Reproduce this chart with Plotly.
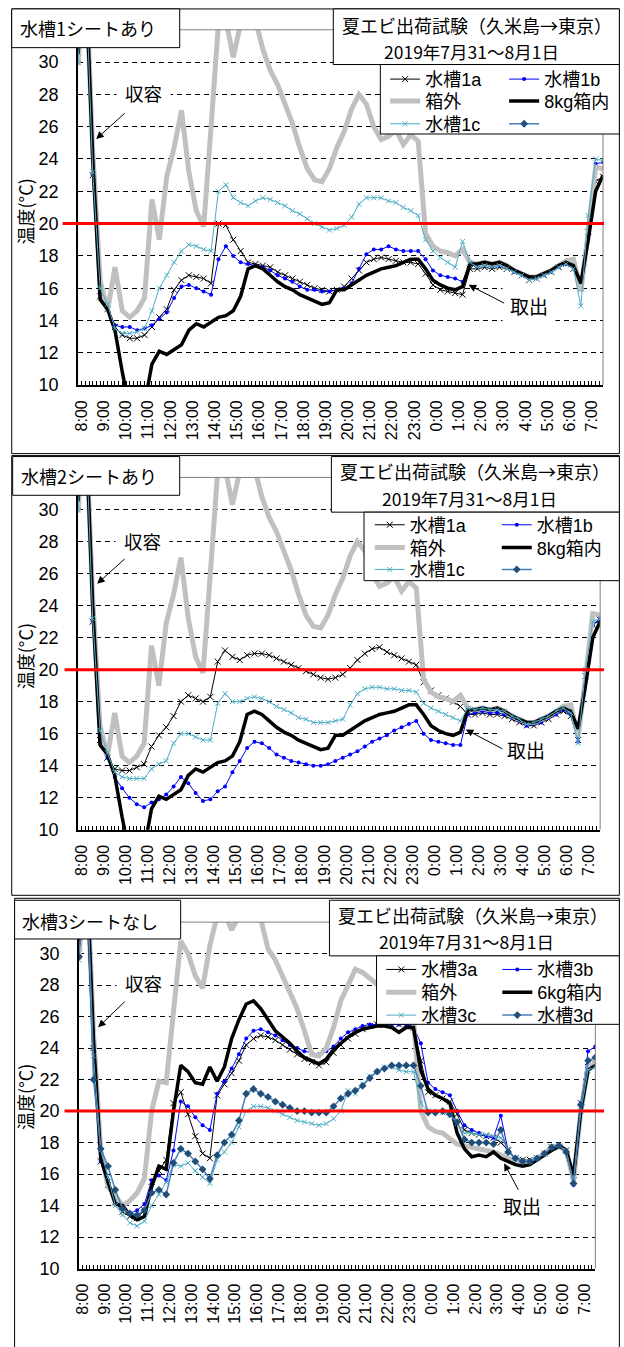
import pandas as pd
import plotly.graph_objects as go

W, H = 624, 1347

# readings every 20 minutes, 2019-07-31 07:50 -> 2019-08-01 07:30
TIMES = pd.date_range("2019-07-31 07:50", periods=72, freq="20min")

# outside-box air temperature and 8 kg box interior (tanks 1 and 2 runs)
OUTSIDE_12 = [
    29.8, 36.0, 24.5, 16.5, 14.6, 17.3, 14.6, 14.2, 14.6, 15.4,
    21.5, 19.0, 22.9, 24.7, 27.0, 23.2, 20.8, 19.8, 26.0, 32.4,
    32.6, 30.3, 32.4, 33.0, 32.6, 30.8, 29.5, 28.6, 27.4, 26.2,
    24.7, 23.4, 22.7, 22.6, 23.4, 24.7, 25.7, 27.1, 28.0, 27.4,
    26.0, 25.2, 25.4, 25.8, 24.9, 25.5, 25.1, 19.4, 18.6, 18.3,
    18.2, 18.0, 18.4, 17.6, 17.5, 17.6, 17.5, 17.6, 17.4, 17.1,
    16.9, 16.7, 16.7, 16.9, 17.1, 17.4, 17.7, 17.8, 15.8, 19.5,
    23.5, 23.4]
BOX_8KG = [
    30.5, 36.0, 24.0, 15.3, 14.7, 13.4, 10.8, 8.5, 8.0, 8.8,
    11.3, 12.1, 11.9, 12.2, 12.5, 13.4, 13.8, 13.6, 13.9, 14.2,
    14.3, 14.6, 15.5, 17.2, 17.4, 17.2, 16.8, 16.4, 16.1, 15.9,
    15.6, 15.4, 15.2, 15.0, 15.1, 15.9, 15.9, 16.2, 16.5, 16.8,
    17.0, 17.2, 17.3, 17.4, 17.6, 17.8, 17.8, 17.2, 16.5, 16.2,
    16.0, 15.9, 16.1, 17.5, 17.5, 17.6, 17.5, 17.6, 17.4, 17.1,
    16.9, 16.7, 16.7, 16.9, 17.1, 17.4, 17.6, 17.4, 16.3, 19.0,
    22.0, 23.0]

# tank 1 (sheet covered)
TANK1_A = [
    30.2, 36.0, 23.0, 15.5, 14.7, 13.6, 13.1, 12.9, 12.9, 13.1,
    13.6, 14.2, 14.7, 15.9, 16.5, 16.8, 16.7, 16.6, 16.3, 20.0,
    19.9, 19.0, 18.3, 17.6, 17.5, 17.4, 17.3, 17.0, 16.8, 16.6,
    16.4, 16.2, 16.0, 15.9, 15.8, 15.9, 16.1, 16.6, 17.1, 17.6,
    17.8, 17.9, 17.8, 17.7, 17.6, 17.6, 17.5, 16.9, 16.2, 15.9,
    15.8, 15.7, 15.6, 17.2, 17.2, 17.3, 17.2, 17.3, 17.2, 17.0,
    16.8, 16.5, 16.6, 16.8, 17.0, 17.3, 17.5, 17.2, 16.0, 19.5,
    22.6, 22.9]
TANK1_B = [
    30.0, 36.0, 23.0, 15.7, 14.8, 13.7, 13.6, 13.6, 13.4, 13.5,
    13.7, 14.1, 14.5, 15.4, 16.1, 16.2, 16.0, 15.8, 15.6, 17.8,
    18.6, 18.0, 17.6, 17.5, 17.4, 17.3, 17.1, 16.8, 16.6, 16.4,
    16.1, 15.9, 15.9, 15.8, 15.8, 15.9, 16.0, 16.3, 17.2, 18.1,
    18.4, 18.4, 18.6, 18.4, 18.3, 18.3, 18.3, 17.8, 17.1, 16.8,
    16.7, 16.6, 16.4, 17.4, 17.4, 17.5, 17.4, 17.4, 17.3, 17.0,
    16.8, 16.6, 16.6, 16.8, 17.0, 17.3, 17.5, 17.3, 16.2, 20.0,
    23.7, 23.8]
TANK1_C = [
    30.0, 36.0, 23.2, 16.0, 15.0, 13.5, 13.2, 13.2, 13.3, 13.5,
    14.6, 16.0, 16.8, 17.6, 18.3, 18.7, 18.6, 18.4, 18.3, 22.0,
    22.4, 21.6, 21.3, 21.1, 21.4, 21.6, 21.5, 21.3, 21.1, 20.8,
    20.6, 20.3, 20.0, 19.8, 19.6, 19.7, 19.9, 20.4, 21.2, 21.6,
    21.6, 21.6, 21.4, 21.3, 21.0, 20.8, 20.5, 19.0, 18.3, 17.9,
    17.6, 17.3, 18.9, 17.6, 17.3, 17.4, 17.3, 17.4, 17.2, 17.0,
    16.8, 16.5, 16.6, 16.8, 17.0, 17.3, 17.5, 17.2, 14.9, 20.5,
    24.0, 23.9]

# tank 2 (sheet covered)
TANK2_A = [
    30.2, 36.0, 23.0, 15.6, 14.5, 13.8, 13.7, 13.7, 13.9, 14.1,
    15.2, 15.9, 16.4, 17.1, 18.0, 18.4, 18.2, 18.0, 18.3, 20.5,
    21.2, 20.8, 20.6, 20.9, 21.0, 21.0, 20.9, 20.7, 20.5, 20.3,
    20.1, 19.9, 19.7, 19.5, 19.4, 19.5, 19.7, 20.1, 20.6, 21.0,
    21.3, 21.4, 21.1, 20.9, 20.7, 20.5, 20.3, 19.2, 18.7, 18.4,
    18.2, 18.0, 17.7, 17.2, 17.2, 17.3, 17.2, 17.2, 17.1, 16.9,
    16.7, 16.5, 16.5, 16.7, 16.9, 17.2, 17.4, 17.1, 15.6, 19.6,
    22.8, 23.1]
TANK2_B = [
    30.0, 36.0, 23.0, 15.5, 14.5, 13.3, 12.6, 12.0, 11.6, 11.4,
    11.7, 11.9, 12.2, 12.7, 13.3, 12.9, 12.3, 11.8, 11.9, 12.4,
    12.7, 13.6, 14.3, 15.1, 15.5, 15.4, 15.1, 14.7, 14.5, 14.3,
    14.2, 14.1, 14.0, 14.0, 14.1, 14.3, 14.5, 14.7, 14.9, 15.2,
    15.5, 15.7, 15.9, 16.2, 16.4, 16.6, 16.8, 16.0, 15.6, 15.5,
    15.4, 15.3, 15.3, 17.2, 17.3, 17.4, 17.3, 17.3, 17.2, 17.0,
    16.8, 16.5, 16.6, 16.7, 17.0, 17.2, 17.5, 17.2, 15.5, 19.5,
    22.8, 23.2]
TANK2_C = [
    30.0, 36.0, 23.2, 16.2, 14.8, 13.6, 13.3, 13.2, 13.2, 13.2,
    13.8, 14.1, 14.3, 15.4, 16.0, 16.0, 15.8, 15.6, 15.6, 17.9,
    18.5, 18.0, 18.0, 18.2, 18.3, 18.2, 18.0, 17.7, 17.5, 17.3,
    17.0, 16.9, 16.7, 16.7, 16.7, 16.8, 16.9, 17.8, 18.5, 18.8,
    18.9, 18.9, 18.8, 18.8, 18.7, 18.7, 18.6, 17.9, 17.6, 17.4,
    17.2, 17.0, 16.8, 17.6, 17.5, 17.6, 17.5, 17.5, 17.4, 17.1,
    16.9, 16.6, 16.7, 16.9, 17.1, 17.4, 17.6, 17.3, 15.4, 20.0,
    23.0, 23.2]

# tank 3 (no sheet): outside air, 6 kg box interior and four probes
OUTSIDE_3 = [
    29.6, 36.0, 25.0, 17.5, 15.2, 14.6, 14.0, 14.3, 14.8, 15.7,
    20.0, 21.9, 21.8, 26.3, 30.8, 30.0, 28.6, 27.8, 30.5, 32.4,
    32.6, 31.5, 32.4, 32.6, 32.6, 32.2, 30.3, 29.6, 28.6, 27.6,
    26.5, 25.1, 23.6, 23.5, 24.0, 25.3, 27.0, 28.0, 29.0, 28.8,
    28.4, 28.0, 27.6, 27.3, 27.0, 26.5, 25.8, 20.0, 19.0, 18.7,
    18.6, 18.2, 17.9, 17.8, 17.7, 17.6, 17.5, 17.4, 17.2, 17.0,
    16.8, 16.7, 16.8, 17.0, 17.3, 17.7, 17.8, 17.5, 15.6, 20.0,
    22.8, 23.0]
BOX_6KG = [
    30.5, 36.0, 24.5, 17.0, 15.5, 14.1, 14.0, 13.4, 13.1, 13.3,
    15.2, 16.5, 16.3, 20.0, 22.9, 22.5, 21.8, 21.7, 22.8, 21.9,
    22.8, 24.6, 25.8, 26.8, 27.0, 26.5, 25.8, 25.1, 24.7, 24.3,
    23.8, 23.4, 23.2, 23.0, 23.3, 23.9, 24.3, 24.7, 25.0, 25.2,
    25.3, 25.4, 25.4, 25.3, 25.0, 25.3, 25.3, 22.6, 21.4, 21.0,
    20.8, 20.5, 18.6, 17.6, 17.1, 17.2, 17.1, 17.4, 17.0, 16.8,
    16.6, 16.5, 16.6, 16.9, 17.2, 17.5, 17.8, 17.5, 15.9, 20.0,
    22.6, 22.9]
TANK3_A = [
    30.0, 36.0, 24.0, 16.8, 15.3, 14.2, 13.6, 13.3, 13.2, 13.7,
    15.5, 16.2, 16.9, 20.5, 21.2, 19.8, 18.4, 17.3, 17.0, 21.0,
    21.7, 22.4, 23.2, 24.2, 24.6, 24.8, 24.7, 24.5, 24.2, 23.9,
    23.6, 23.3, 23.1, 22.9, 23.1, 23.7, 24.2, 24.6, 24.9, 25.2,
    25.4, 25.5, 25.5, 25.5, 25.5, 25.5, 25.3, 23.2, 21.2, 21.0,
    20.8, 20.6, 19.8, 18.8, 18.6, 18.5, 18.4, 18.3, 18.0, 17.5,
    17.0, 16.9, 16.9, 17.0, 17.3, 17.7, 17.7, 17.5, 15.6, 20.5,
    22.8, 23.0]
TANK3_B = [
    30.0, 36.0, 24.0, 16.8, 15.6, 14.2, 13.8, 13.5, 13.7, 14.1,
    15.6, 15.9, 15.6, 17.5, 20.6, 20.3, 19.6, 19.1, 18.8, 21.1,
    21.9, 22.7, 23.6, 24.6, 25.1, 25.2, 25.0, 24.8, 24.5, 24.2,
    24.0, 23.8, 23.7, 23.6, 23.8, 24.1, 24.6, 25.0, 25.2, 25.4,
    25.5, 25.5, 25.5, 25.5, 25.5, 25.5, 25.4, 24.3, 21.8, 21.4,
    21.2, 21.0, 20.0, 19.1, 18.8, 18.6, 18.4, 18.3, 19.7, 17.5,
    17.0, 16.8, 16.8, 17.0, 17.3, 17.7, 17.8, 17.5, 15.3, 20.5,
    23.8, 24.1]
TANK3_C = [
    29.6, 36.0, 23.5, 17.5, 15.8, 14.0, 13.4, 12.9, 12.7, 13.0,
    14.0, 14.7, 15.5, 16.6, 16.5, 16.7, 16.2, 15.8, 15.4, 16.9,
    17.4, 18.0, 19.0, 20.0, 20.3, 20.3, 20.2, 20.0, 19.8, 19.6,
    19.4, 19.3, 19.2, 19.1, 19.2, 19.5, 20.0, 21.3, 21.1, 21.7,
    22.2, 22.5, 22.8, 22.8, 22.6, 22.5, 22.5, 20.5, 20.0, 19.9,
    19.9, 19.7, 19.2, 18.6, 18.6, 18.5, 18.5, 18.4, 18.3, 17.6,
    17.0, 16.8, 16.8, 17.0, 17.3, 17.7, 17.8, 17.5, 15.5, 20.0,
    22.6, 22.8]
TANK3_D = [
    29.8, 36.0, 22.0, 17.6, 16.5, 15.0, 13.8, 13.5, 13.4, 13.7,
    14.8, 15.0, 14.7, 16.7, 17.6, 17.3, 16.8, 16.3, 15.7, 17.2,
    18.0, 18.5, 19.4, 21.1, 21.4, 21.1, 20.9, 20.6, 20.4, 20.2,
    20.0, 20.0, 19.9, 19.9, 19.9, 20.3, 20.8, 21.1, 21.3, 21.6,
    22.1, 22.5, 22.7, 22.9, 22.9, 22.9, 22.9, 21.6, 19.9, 19.9,
    20.0, 19.8, 19.3, 18.2, 18.0, 18.0, 18.0, 17.9, 18.8, 17.4,
    17.0, 16.8, 16.8, 17.0, 17.3, 17.7, 17.8, 17.4, 15.4, 20.4,
    23.2, 23.4]

Y_TICKS = [10, 12, 14, 16, 18, 20, 22, 24, 26, 28, 30]
THRESHOLD = 20

NUM_FONT = "Liberation Sans, Arial, Noto Sans CJK JP, sans-serif"
JP_FONT = "Noto Sans CJK JP, Liberation Sans, sans-serif"

# series look, in drawing order: probe a, probe b, outside, box, probe c, probe d
STYLES = [
    dict(mode="lines+markers", line=dict(color="black", width=1),
         marker=dict(symbol="x-thin", size=6, color="black",
                     line=dict(color="black", width=1))),
    dict(mode="lines+markers", line=dict(color="#0000FF", width=1),
         marker=dict(symbol="circle", size=4, color="#0000FF")),
    dict(mode="lines", line=dict(color="#C0C0C0", width=5)),
    dict(mode="lines", line=dict(color="black", width=3.5)),
    dict(mode="lines+markers", line=dict(color="#4BACC6", width=1),
         marker=dict(symbol="x-thin", size=5, color="#4BACC6",
                     line=dict(color="#4BACC6", width=1))),
    dict(mode="lines+markers", line=dict(color="#4A7EBB", width=1.5),
         marker=dict(symbol="diamond", size=6, color="#1F4E79")),
]

TITLE_1 = "夏エビ出荷試験（久米島→東京）"
TITLE_2 = "2019年7月31～8月1日"

PANELS = [
    dict(label="水槽1シートあり",
         names=["水槽1a", "水槽1b", "箱外", "8kg箱内", "水槽1c", " "],
         values=[TANK1_A, TANK1_B, OUTSIDE_12, BOX_8KG, TANK1_C, None],
         frame=(7, 9, 640, 457), plot_x=(76, 623), plot_y=(30, 388),
         label_box=(7, 9, 182, 48), label_at=(86, 28),
         title_box=(342, 9, 640, 65), title_at=((492, 25), (486, 52)),
         legend_box=(391, 65, 640, 135), legend_x=396, legend_rows=(80, 102, 125), entry=74,
         red_x0=60, ytitle_at=(21, 213),
         in_text=(144, 94), in_head=(95, 140), in_tail=(30, -27),
         out_text=(546, 308), out_head=(483, 287), out_tail=(37, 19)),
    dict(label="水槽2シートあり",
         names=["水槽1a", "水槽1b", "箱外", "8kg箱内", "水槽1c", " "],
         values=[TANK2_A, TANK2_B, OUTSIDE_12, BOX_8KG, TANK2_C, None],
         frame=(7, 459, 640, 902), plot_x=(76, 620), plot_y=(481, 836),
         label_box=(8, 460, 182, 499), label_at=(87, 480),
         title_box=(340, 460, 640, 516), title_at=((490, 475), (484, 502)),
         legend_box=(374, 516, 640, 585), legend_x=380, legend_rows=(529, 552, 574), entry=82,
         red_x0=62, ytitle_at=(21, 661),
         in_text=(143, 545), in_head=(96, 588), in_tail=(29, -26),
         out_text=(543, 755), out_head=(480, 735), out_tail=(38, 20)),
    dict(label="水槽3シートなし",
         names=["水槽3a", "水槽3b", "箱外", "6kg箱内", "水槽3c", "水槽3d"],
         values=[TANK3_A, TANK3_B, OUTSIDE_3, BOX_6KG, TANK3_C, TANK3_D],
         frame=(10, 905, 640, 1360), plot_x=(77, 615), plot_y=(929, 1278),
         label_box=(10, 907, 183, 946), label_at=(89, 928),
         title_box=(338, 907, 640, 963), title_at=((488, 922), (481, 949)),
         legend_box=(387, 963, 640, 1032), legend_x=392, legend_rows=(977, 1000, 1023), entry=71,
         red_x0=62, ytitle_at=(21, 1105),
         in_text=(144, 990), in_head=(97, 1035), in_tail=(28, -27),
         out_text=(539, 1215), out_head=(520, 1172), out_tail=(15, 28)),
]


def px(x):
    return x / W


def py(y):
    return 1 - y / H


def box(x0, y0, x1, y1, fill=None, layer="above"):
    return dict(type="rect", xref="paper", yref="paper",
                x0=px(x0), x1=px(x1), y0=py(y1), y1=py(y0),
                line=dict(color="black", width=1),
                fillcolor=fill if fill else "rgba(0,0,0,0)", layer=layer)


def text(x, y, s, size=17, family=JP_FONT, **kw):
    return dict(x=px(x), y=py(y), xref="paper", yref="paper", text=s,
                showarrow=False, xanchor="center", yanchor="middle",
                font=dict(family=family, size=size, color="black"), **kw)


def arrow(head, tail):
    return dict(x=px(head[0]), y=py(head[1]), xref="paper", yref="paper",
                ax=tail[0], ay=tail[1], text="", showarrow=True,
                arrowhead=2, arrowsize=1.5, arrowwidth=1, arrowcolor="black",
                standoff=0, startstandoff=0)


fig = go.Figure()
shapes, annotations, layout = [], [], {}

for i, p in enumerate(PANELS):
    n = "" if i == 0 else str(i + 1)
    xa, ya = "x" + n, "y" + n

    for k, (name, vals, style) in enumerate(zip(p["names"], p["values"], STYLES)):
        row = k // 2
        leg_idx = 3 * i + row + 1
        leg = "legend" if leg_idx == 1 else f"legend{leg_idx}"
        if vals is None:
            xs, ys = [None], [None]
        else:
            xs, ys = TIMES, vals
        fig.add_trace(go.Scatter(x=xs, y=ys, name=name, xaxis=xa, yaxis=ya,
                                 legend=leg, hoverinfo="skip", **style))

    x0, x1 = p["plot_x"]
    y0, y1 = p["plot_y"]
    layout["xaxis" + n] = dict(
        domain=[px(x0), px(x1)], anchor=ya, type="date",
        range=[TIMES[0], TIMES[-1]],
        tick0="2019-07-31 08:00", dtick=3600000, tickformat="%-H:%M",
        tickangle=-90, ticks="inside", ticklen=4, tickcolor="black",
        minor=dict(dtick=600000, ticks="inside", ticklen=4, tickcolor="black",
                   showgrid=False),
        showline=True, linecolor="black", linewidth=1.5, showgrid=False,
        zeroline=False, ticklabelstandoff=7,
        tickfont=dict(family=NUM_FONT, size=16, color="black"),
    )
    layout["yaxis" + n] = dict(
        domain=[py(y1), py(y0)], anchor=xa, range=[10, 32],
        tickmode="array", tickvals=Y_TICKS, ticks="",
        showgrid=True, gridcolor="black", gridwidth=1, griddash="5px,4px",
        showline=True, linecolor="black", linewidth=1.5, zeroline=False,
        ticklabelstandoff=14,
        tickfont=dict(family=NUM_FONT, size=18, color="black"),
    )

    for r, ry in enumerate(p["legend_rows"]):
        leg_idx = 3 * i + r + 1
        key = "legend" if leg_idx == 1 else f"legend{leg_idx}"
        layout[key] = dict(
            x=px(p["legend_x"]), y=py(ry), xanchor="left", yanchor="middle",
            orientation="h", entrywidth=p["entry"], entrywidthmode="pixels",
            bgcolor="rgba(0,0,0,0)", borderwidth=0, traceorder="normal",
            font=dict(family=NUM_FONT, size=18, color="black"),
        )

    shapes.append(box(*p["frame"], layer="below"))
    # grey plot-area border on top and right
    shapes.append(dict(type="line", xref=xa + " domain", yref=ya + " domain",
                       x0=0, x1=1, y0=1, y1=1, line=dict(color="#808080", width=1)))
    shapes.append(dict(type="line", xref=xa + " domain", yref=ya + " domain",
                       x0=1, x1=1, y0=0, y1=1, line=dict(color="#808080", width=1)))
    # 20 °C reference line
    shapes.append(dict(type="line", xref="paper", yref=ya,
                       x0=px(p["red_x0"]), x1=1, y0=THRESHOLD, y1=THRESHOLD,
                       line=dict(color="#FF0000", width=3), layer="above"))
    shapes.append(box(*p["label_box"], fill="white"))
    shapes.append(box(*p["title_box"], fill="white"))
    shapes.append(box(*p["legend_box"], fill="white"))

    annotations.append(text(*p["label_at"], p["label"], size=18))
    annotations.append(text(*p["title_at"][0], TITLE_1, size=18))
    annotations.append(text(*p["title_at"][1], TITLE_2, size=17.5))
    annotations.append(text(*p["ytitle_at"], "温度(°C)", size=18, textangle=-90))
    annotations.append(text(*p["in_text"], "収容", size=18.5,
                            bgcolor="white", borderpad=8))
    annotations.append(arrow(p["in_head"], p["in_tail"]))
    annotations.append(text(*p["out_text"], "取出", size=19,
                            bgcolor="white", borderpad=7))
    annotations.append(arrow(p["out_head"], p["out_tail"]))

fig.update_layout(
    width=W, height=H, margin=dict(l=0, r=0, t=0, b=0),
    paper_bgcolor="white", plot_bgcolor="white",
    showlegend=True, shapes=shapes, annotations=annotations,
    font=dict(family=NUM_FONT, color="black"),
    **layout,
)

fig.write_html("out.html")
